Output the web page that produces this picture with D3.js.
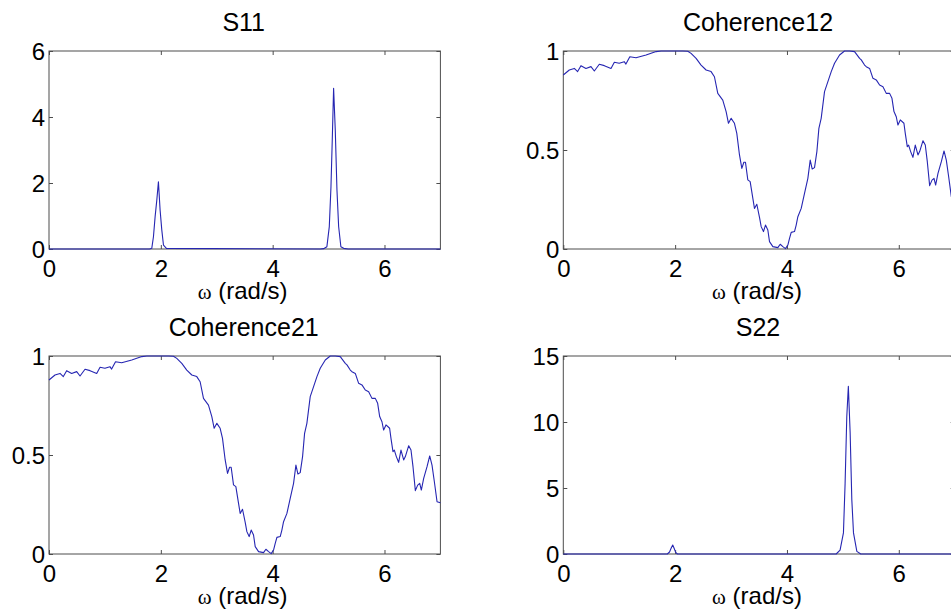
<!DOCTYPE html>
<html>
<head>
<meta charset="utf-8">
<script src="https://cdn.jsdelivr.net/npm/d3@7"></script>
<style>
  html, body { margin: 0; padding: 0; background: #fff; overflow: hidden; }
  svg { display: block; }
  .tick text { font-family: 'Liberation Sans', Arial, sans-serif; font-size: 24px; fill: #000; }
  .tick line { stroke: #4d4d4d; }
</style>
</head>
<body>
<div id="chart"></div>
<script>
// values
const omegaCoh = [0, 0.107, 0.197, 0.256, 0.316, 0.405, 0.495, 0.555, 0.644, 0.734, 0.853, 0.913,
  1.0, 1.09, 1.12, 1.19, 1.30, 1.48, 1.66, 1.75, 1.9, 2.0, 2.136, 2.226, 2.285, 2.375, 2.464, 2.554,
  2.643, 2.703, 2.763, 2.852, 2.912, 2.954, 3.002, 3.061, 3.103, 3.151, 3.193, 3.229, 3.258, 3.300,
  3.342, 3.390, 3.419, 3.461, 3.509, 3.539, 3.580, 3.616, 3.658, 3.688, 3.748, 3.837, 3.879, 3.927,
  3.974, 4.016, 4.046, 4.076, 4.135, 4.165, 4.195, 4.255, 4.314, 4.374, 4.416, 4.452, 4.493, 4.535,
  4.571, 4.612, 4.672, 4.732, 4.792, 4.851, 4.941, 5.030, 5.120, 5.209, 5.299, 5.329, 5.388, 5.418,
  5.478, 5.538, 5.597, 5.657, 5.717, 5.776, 5.836, 5.878, 5.914, 5.955, 5.985, 6.027, 6.092, 6.116,
  6.152, 6.176, 6.212, 6.253, 6.295, 6.343, 6.373, 6.433, 6.474, 6.510, 6.552, 6.594, 6.630, 6.659,
  6.701, 6.761, 6.809, 6.850, 6.892, 6.940, 7.0];
const coherence12 = [0.879, 0.904, 0.912, 0.896, 0.926, 0.912, 0.921, 0.899, 0.933, 0.926, 0.912, 0.943,
  0.938, 0.946, 0.934, 0.971, 0.966, 0.98, 0.997, 1.0, 1.0, 1.0, 1.0, 0.999, 0.988, 0.963, 0.929, 0.904,
  0.896, 0.870, 0.786, 0.752, 0.694, 0.635, 0.660, 0.635, 0.584, 0.475, 0.407, 0.438, 0.438, 0.349,
  0.340, 0.256, 0.205, 0.226, 0.160, 0.113, 0.088, 0.121, 0.096, 0.037, 0.012, 0.007, 0.024, 0.012,
  0.002, 0.020, 0.054, 0.084, 0.088, 0.121, 0.163, 0.205, 0.281, 0.357, 0.449, 0.404, 0.411, 0.492,
  0.609, 0.660, 0.795, 0.845, 0.896, 0.938, 0.980, 1.0, 1.0, 0.997, 0.963, 0.955, 0.929, 0.921,
  0.912, 0.862, 0.854, 0.828, 0.820, 0.786, 0.786, 0.761, 0.694, 0.668, 0.626, 0.652, 0.635, 0.584,
  0.517, 0.525, 0.492, 0.463, 0.525, 0.475, 0.492, 0.547, 0.525, 0.441, 0.320, 0.348, 0.357, 0.323,
  0.382, 0.441, 0.495, 0.449, 0.365, 0.264, 0.259];
const coherence21 = coherence12.slice(); // identical in the reference

const omegaS11 = [0, 1.80, 1.838, 1.868, 1.898, 1.928, 1.957, 1.987, 2.017, 2.047, 2.10,
  4.85, 4.911, 4.97, 5.013, 5.043, 5.066, 5.09, 5.12, 5.15, 5.18, 5.22, 5.27, 5.35, 7];
const s11 = [0, 0, 0.02, 0.37, 0.98, 1.48, 2.04, 1.18, 0.58, 0.12, 0.02,
  0, 0.01, 0.07, 0.68, 1.89, 3.3, 4.87, 3.6, 1.79, 0.68, 0.07, 0.02, 0, 0];

const omegaS22 = [0, 1.86, 1.90, 1.93, 1.957, 1.98, 2.01, 2.04, 4.88, 4.95, 5.01, 5.04, 5.07,
  5.098, 5.13, 5.16, 5.19, 5.25, 5.32, 7];
const s22 = [0, 0, 0.15, 0.45, 0.68, 0.45, 0.12, 0, 0, 0.3, 1.6, 5.35, 10.4, 12.7, 9.2, 4.1,
  1.6, 0.2, 0, 0];

const xTicks = [0, 2, 4, 6];
const s11Ticks = [0, 2, 4, 6];
const s22Ticks = [0, 5, 10, 15];
const cohTicks = [0, 0.5, 1];

const W = 951, H = 615;
const LINE = '#2626b2';
const BOX = '#4d4d4d';
const FONT = "'Liberation Sans', Arial, sans-serif";

const svg = d3.select('#chart').append('svg')
  .attr('width', W).attr('height', H);

const panels = [
  { title: 'S11',         x0: 49,    y0: 51,  xs: omegaS11, ys: s11,         ymax: 6,  yTicks: s11Ticks },
  { title: 'Coherence12', x0: 563.3, y0: 51,  xs: omegaCoh, ys: coherence12, ymax: 1,  yTicks: cohTicks },
  { title: 'Coherence21', x0: 49,    y0: 356, xs: omegaCoh, ys: coherence21, ymax: 1,  yTicks: cohTicks },
  { title: 'S22',         x0: 563.3, y0: 356, xs: omegaS22, ys: s22,         ymax: 15, yTicks: s22Ticks },
];
const pw = 391.4, ph = 198;

panels.forEach(p => {
  const g = svg.append('g').attr('transform', `translate(${p.x0},${p.y0})`);
  const x = d3.scaleLinear().domain([0, 7]).range([0, pw]);
  const y = d3.scaleLinear().domain([0, p.ymax]).range([ph, 0]);

  // ticks point inward on all four sides, labels only bottom/left
  const bottom = g.append('g').attr('transform', `translate(0,${ph})`)
    .call(d3.axisBottom(x).tickValues(xTicks).tickSizeInner(-4).tickSizeOuter(0).tickPadding(11)
      .tickFormat(d3.format('d')));
  const top = g.append('g')
    .call(d3.axisTop(x).tickValues(xTicks).tickSizeInner(-4).tickSizeOuter(0).tickFormat(''));
  const left = g.append('g')
    .call(d3.axisLeft(y).tickValues(p.yTicks).tickSizeInner(-4).tickSizeOuter(0).tickPadding(4)
      .tickFormat(d => String(d)));
  const right = g.append('g').attr('transform', `translate(${pw},0)`)
    .call(d3.axisRight(y).tickValues(p.yTicks).tickSizeInner(-4).tickSizeOuter(0).tickFormat(''));

  [bottom, top, left, right].forEach(a => {
    a.select('.domain').remove();
    a.selectAll('text').style('font-family', FONT).style('font-size', '24px').attr('fill', '#000');
  });
  bottom.selectAll('text').attr('dy', '0.71em');
  left.selectAll('text').attr('dy', '0.35em');

  g.append('rect')
    .attr('width', pw).attr('height', ph)
    .attr('fill', 'none').attr('stroke', BOX).attr('stroke-width', 1);

  const line = d3.line().x((d, i) => x(p.xs[i])).y(d => y(d));
  g.append('path')
    .datum(p.ys)
    .attr('d', line)
    .attr('fill', 'none')
    .attr('stroke', LINE)
    .attr('stroke-width', 1.1)
    .attr('stroke-linejoin', 'round');

  g.append('text')
    .attr('x', pw / 2 - 1).attr('y', -20)
    .attr('text-anchor', 'middle')
    .style('font-family', FONT).style('font-size', '25px')
    .text(p.title);

  const xl = g.append('text')
    .attr('x', pw / 2 - 2).attr('y', ph + 50)
    .attr('text-anchor', 'middle')
    .style('font-family', FONT).style('font-size', '24px');
  xl.append('tspan').style('font-family', "'Liberation Serif', 'Times New Roman', serif")
    .style('font-size', '21px').text('ω');
  xl.append('tspan').text(' (rad/s)');
});
</script>
</body>
</html>
